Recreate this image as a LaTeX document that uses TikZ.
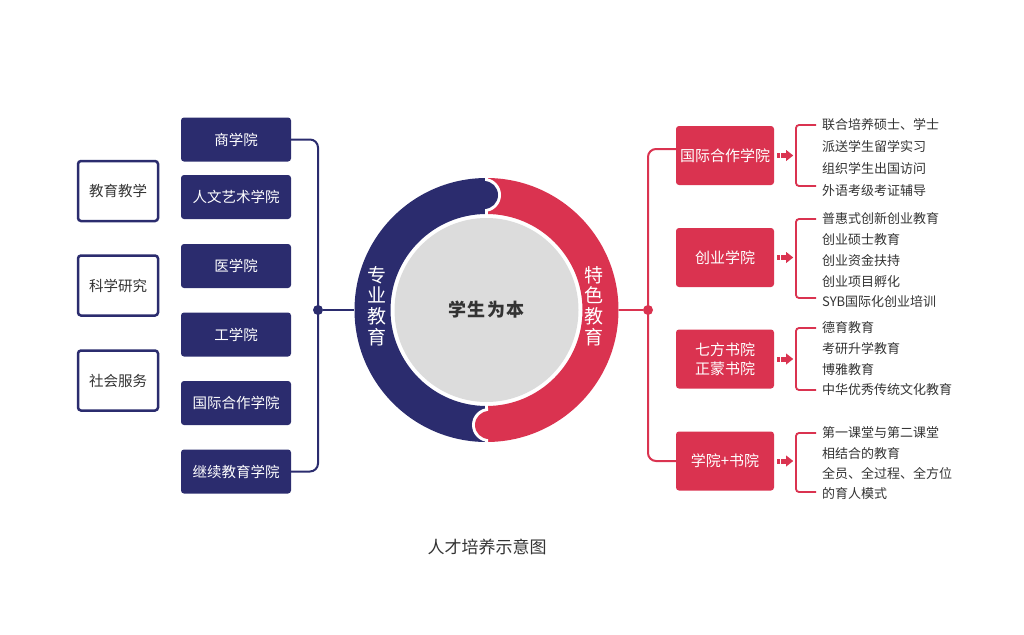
\documentclass[tikz,border=0pt]{standalone}
\usepackage{fontspec}
\setmainfont{Noto Sans CJK SC}
\definecolor{navy}{HTML}{2B2C6E}
\definecolor{redc}{HTML}{DA3350}
\definecolor{graybg}{HTML}{DCDCDC}
\definecolor{txt}{HTML}{333333}
\tikzset{
  arrowicon/.pic={
    \fill[redc] (0,-2.5) rectangle (3,2.5);
    \fill[redc] (4,-2.5) rectangle (9,2.5);
    \fill[redc] (9,-5.5) -- (16,0) -- (9,5.5) -- cycle;
  }
}
\begin{document}
\begin{tikzpicture}[x=1pt,y=-1pt,
  navybox/.style={fill=navy, rounded corners=3pt, minimum width=110pt, minimum height=44pt, text=white, font=\fontsize{14.5}{16}\selectfont, inner sep=0pt},
  outbox/.style={draw=navy, line width=2.5pt, rounded corners=3pt, minimum width=80pt, minimum height=60pt, text=txt, font=\fontsize{14.5}{16}\selectfont, inner sep=0pt},
  redbox/.style={fill=redc, rounded corners=3pt, minimum width=98pt, minimum height=59pt, text=white, font=\fontsize{15}{19.5}\selectfont, align=center, inner sep=0pt},
  item/.style={anchor=west, text=txt, font=\fontsize{13}{15}\selectfont, inner sep=0pt},
  navyline/.style={draw=navy, line width=2pt},
  redline/.style={draw=redc, line width=2pt},
  brline/.style={draw=redc, line width=1.8pt, rounded corners=3pt},
  vtext/.style={text=white, align=center, font=\fontsize{19}{20.7}\selectfont, inner sep=0pt},
  dotn/.style={circle, inner sep=0pt, minimum size=10pt}
]
\useasboundingbox (0,0) rectangle (1024,634);

% ---------- ring ----------
\coordinate (c) at (486.5,310);
\fill[navy] (486.5,178) arc[start angle=270, end angle=90, radius=132] -- (486.5,406) arc[start angle=90, end angle=270, radius=96] -- cycle;
\fill[redc] (486.5,178) arc[start angle=-90, end angle=90, radius=132] -- (486.5,406) arc[start angle=90, end angle=-90, radius=96] -- cycle;
\draw[white, line width=3pt] (486.5,175) -- (486.5,217);
\draw[white, line width=3pt] (486.5,403) -- (486.5,445);
\begin{scope}
  \clip (485,170) rectangle (520,220);
  \fill[white] (484,195) circle[radius=17];
\end{scope}
\fill[navy] (484,195) circle[radius=14];
\begin{scope}
  \clip (488,400) rectangle (450,450);
  \fill[white] (489,425) circle[radius=17];
\end{scope}
\fill[redc] (489,425) circle[radius=14];
\node[circle, minimum size=264pt, inner sep=0pt] (ring) at (c) {};
\node[circle, fill=graybg, minimum size=184pt, inner sep=0pt, text=txt, font=\fontsize{18}{20}\bfseries\selectfont] (core) at (c) {学\hspace{1.5pt}生\hspace{1.5pt}为\hspace{1.5pt}本};
\node[vtext] (zy) at (377,306) {专\\业\\教\\育};
\node[vtext] (ts) at (594,306) {特\\色\\教\\育};

% ---------- left side ----------
\node[outbox] (o1) at (118,191) {教育教学};
\node[outbox] (o2) at (118,285.5) {科学研究};
\node[outbox] (o3) at (118,380.5) {社会服务};

\node[navybox] (b1) at (236,139.5) {商学院};
\node[navybox] (b2) at (236,197) {人文艺术学院};
\node[navybox] (b3) at (236,266) {医学院};
\node[navybox] (b4) at (236,334.5) {工学院};
\node[navybox] (b5) at (236,403) {国际合作学院};
\node[navybox] (b6) at (236,471.5) {继续教育学院};

\node[dotn, fill=navy] (ldot) at (318,310) {};
\draw[navyline, rounded corners=8pt] (b1.east) -- (b1.east -| ldot) -- (b6.east -| ldot) -- (b6.east);
\draw[navyline] (ldot) -- (ring.west);

% ---------- right side ----------
\node[redbox] (r1) at (725,155.5) {国际合作学院};
\node[redbox] (r2) at (725,257.5) {创业学院};
\node[redbox] (r3) at (725,359) {七方书院\\正蒙书院};
\node[redbox] (r4) at (725,461) {学院+书院};

\node[dotn, fill=redc] (rdot) at (648,310) {};
\draw[redline] (ring.east) -- (rdot);
\draw[redline, rounded corners=8pt] ([yshift=6.5pt]r1.west) -- ([yshift=6.5pt]r1.west -| rdot) -- (r4.west -| rdot) -- (r4.west);

\pic at ([xshift=3pt]r1.east) {arrowicon};
\pic at ([xshift=3pt]r2.east) {arrowicon};
\pic at ([xshift=3pt]r3.east) {arrowicon};
\pic at ([xshift=3pt]r4.east) {arrowicon};

\coordinate (bx) at (796,310);

% group 1
\node[item] (a1) at (822,125) {联合培养硕士、学士};
\node[item] (a2) at (822,147) {派送学生留学实习};
\node[item] (a3) at (822,169) {组织学生出国访问};
\node[item] (a4) at (822,191) {外语考级考证辅导};
\draw[brline] ([xshift=-6pt]a1.west) -- (a1.west -| bx) -- ([yshift=5pt]a4.west -| bx) -- ([xshift=-6pt,yshift=5pt]a4.west);

% group 2
\node[item] (c1) at (822,219) {普惠式创新创业教育};
\node[item] (c2) at (822,240) {创业硕士教育};
\node[item] (c3) at (822,261) {创业资金扶持};
\node[item] (c4) at (822,282) {创业项目孵化};
\node[item] (c5) at (822,302) {SYB国际化创业培训};
\draw[brline] ([xshift=-6pt]c1.west) -- (c1.west -| bx) -- ([yshift=4pt]c5.west -| bx) -- ([xshift=-6pt,yshift=4pt]c5.west);

% group 3
\node[item] (d1) at (822,328) {德育教育};
\node[item] (d2) at (822,349) {考研升学教育};
\node[item] (d3) at (822,370) {博雅教育};
\node[item] (d4) at (822,390) {中华优秀传统文化教育};
\draw[brline] ([xshift=-6pt]d1.west) -- (d1.west -| bx) -- (d4.west -| bx) -- ([xshift=-6pt]d4.west);

% group 4
\node[item] (e1) at (822,433) {第一课堂与第二课堂};
\node[item] (e2) at (822,454) {相结合的教育};
\node[item] (e3) at (822,474) {全员、全过程、全方位};
\node[item] (e4) at (822,494) {的育人模式};
\draw[brline] ([xshift=-6pt]e1.west) -- (e1.west -| bx) -- ([yshift=2pt]e4.west -| bx) -- ([xshift=-6pt,yshift=2pt]e4.west);

% caption
\node[text=txt, font=\fontsize{17}{19}\selectfont, inner sep=0pt] (cap) at (487,547) {人才培养示意图};
\end{tikzpicture}
\end{document}
